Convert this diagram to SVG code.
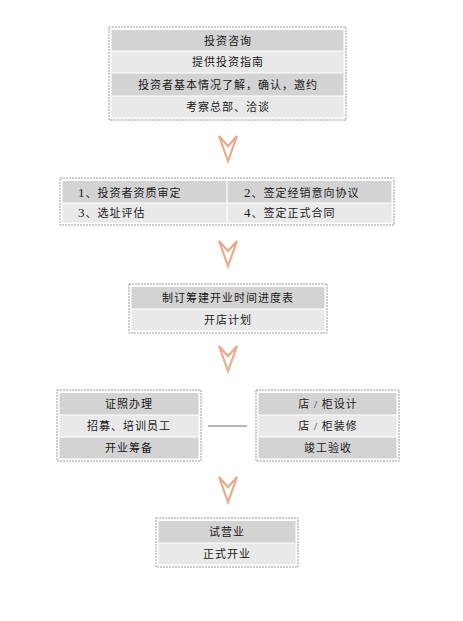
<svg xmlns="http://www.w3.org/2000/svg" width="463" height="621" viewBox="0 0 463 621">
<style>
.frame{fill:#fff;stroke:#9a9a9a;stroke-width:1;stroke-dasharray:2 1}
.dk{fill:#d3d3d3}
.lt{fill:#e9e9e9}
.sep{stroke:#fff;stroke-width:1.2}
text{font-family:"Liberation Serif","Noto Sans CJK SC",serif;font-size:11px;fill:#1a1a1a;letter-spacing:1px}
.c{text-anchor:middle}
.n{font-size:13px}
.arrow{fill:none;stroke:#e9ab8c;stroke-width:2.2;stroke-linejoin:miter}
</style>
<rect width="463" height="621" fill="#fff"/>
<g id="connectors">
<path class="arrow" d="M219,136 L228,161 L237,136 L228,146 Z"/>
<path class="arrow" d="M219,241 L228,266 L237,241 L228,251 Z"/>
<path class="arrow" d="M219,346 L228,371 L237,346 L228,356 Z"/>
<path class="arrow" d="M219,477 L228,502 L237,477 L228,487 Z"/>
<line x1="208" y1="426" x2="247" y2="426" stroke="#a0a0a0" stroke-width="1.5"/>
</g>
<g id="node1">
<rect class="frame" x="109" y="27" width="237" height="93"/>
<rect class="dk" x="111.5" y="30" width="232" height="21"/>
<rect class="lt" x="111.5" y="51" width="232" height="22"/>
<rect class="dk" x="111.5" y="73" width="232" height="23"/>
<rect class="lt" x="111.5" y="96" width="232" height="21.5"/>
<line class="sep" x1="111.5" y1="51" x2="343.5" y2="51"/>
<line class="sep" x1="111.5" y1="73" x2="343.5" y2="73"/>
<line class="sep" x1="111.5" y1="96" x2="343.5" y2="96"/>
<text class="c" x="228" y="44.5">投资咨询</text>
<text class="c" x="228" y="66">提供投资指南</text>
<text class="c" x="228" y="89">投资者基本情况了解，确认，邀约</text>
<text class="c" x="228" y="111">考察总部、洽谈</text>
</g>
<g id="node2">
<rect class="frame" x="60" y="178" width="334" height="47"/>
<rect class="dk" x="62.5" y="181" width="329" height="22"/>
<rect class="lt" x="62.5" y="203" width="329" height="19.5"/>
<line class="sep" x1="62.5" y1="203" x2="391.5" y2="203"/>
<line class="sep" x1="227" y1="181" x2="227" y2="222.5"/>
<text x="78" y="196.5"><tspan class="n">1</tspan>、投资者资质审定</text>
<text x="244" y="196.5"><tspan class="n">2</tspan>、签定经销意向协议</text>
<text x="78" y="217"><tspan class="n">3</tspan>、选址评估</text>
<text x="244" y="217"><tspan class="n">4</tspan>、签定正式合同</text>
</g>
<g id="node3">
<rect class="frame" x="129" y="284" width="198" height="49"/>
<rect class="dk" x="131.5" y="287" width="193" height="22"/>
<rect class="lt" x="131.5" y="309" width="193" height="21.5"/>
<line class="sep" x1="131.5" y1="309" x2="324.5" y2="309"/>
<text class="c" x="228" y="302">制订筹建开业时间进度表</text>
<text class="c" x="228" y="324">开店计划</text>
</g>
<g id="node4">
<rect class="frame" x="57" y="390" width="144" height="71"/>
<rect class="dk" x="59.5" y="393" width="139" height="22"/>
<rect class="lt" x="59.5" y="415" width="139" height="22"/>
<rect class="dk" x="59.5" y="437" width="139" height="21.5"/>
<line class="sep" x1="59.5" y1="415" x2="198.5" y2="415"/>
<line class="sep" x1="59.5" y1="437" x2="198.5" y2="437"/>
<text class="c" x="129" y="408">证照办理</text>
<text class="c" x="129" y="430">招募、培训员工</text>
<text class="c" x="129" y="452">开业筹备</text>
</g>
<g id="node5">
<rect class="frame" x="256" y="390" width="143" height="71"/>
<rect class="dk" x="258.5" y="393" width="138" height="22"/>
<rect class="lt" x="258.5" y="415" width="138" height="22"/>
<rect class="dk" x="258.5" y="437" width="138" height="21.5"/>
<line class="sep" x1="258.5" y1="415" x2="396.5" y2="415"/>
<line class="sep" x1="258.5" y1="437" x2="396.5" y2="437"/>
<text class="c" x="328" y="408">店 / 柜设计</text>
<text class="c" x="328" y="430">店 / 柜装修</text>
<text class="c" x="328" y="452">竣工验收</text>
</g>
<g id="node6">
<rect class="frame" x="156" y="518" width="142" height="49"/>
<rect class="dk" x="158.5" y="521" width="137" height="22"/>
<rect class="lt" x="158.5" y="543" width="137" height="21.5"/>
<line class="sep" x1="158.5" y1="543" x2="295.5" y2="543"/>
<text class="c" x="227" y="536">试营业</text>
<text class="c" x="227" y="558">正式开业</text>
</g>
</svg>
